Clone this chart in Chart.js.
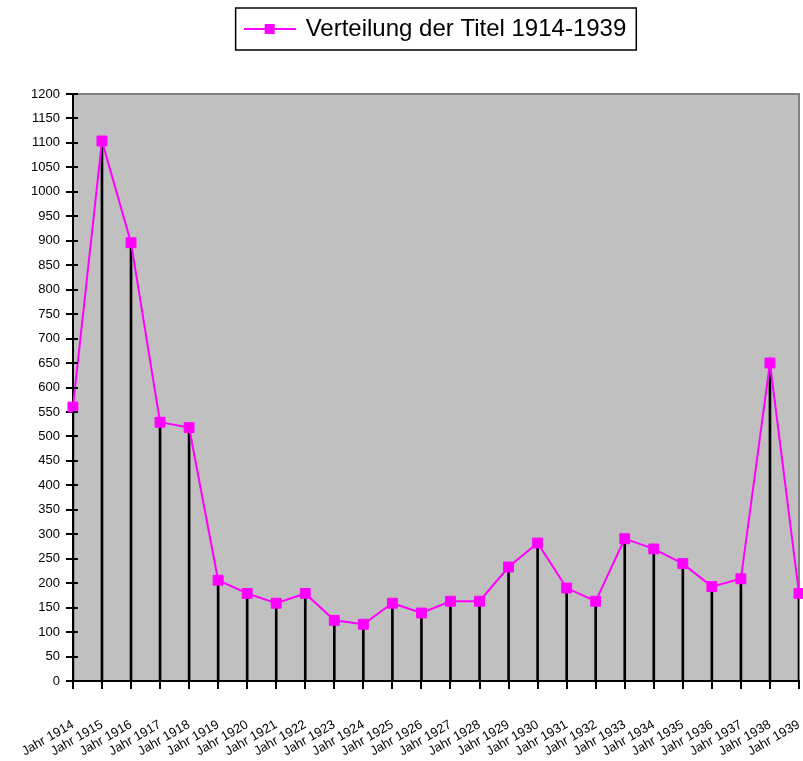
<!DOCTYPE html>
<html>
<head>
<meta charset="utf-8">
<script src="https://cdn.jsdelivr.net/npm/chart.js@4/dist/chart.umd.min.js"></script>
<style>
body { margin: 0; background: #fff; }
</style>
</head>
<body>
<canvas id="titel" width="803" height="761"></canvas>
<script>
// Kategorien und Werte
let jahre = ["Jahr 1914", "Jahr 1915", "Jahr 1916", "Jahr 1917", "Jahr 1918", "Jahr 1919", "Jahr 1920",
    "Jahr 1921", "Jahr 1922", "Jahr 1923", "Jahr 1924", "Jahr 1925", "Jahr 1926", "Jahr 1927",
    "Jahr 1928", "Jahr 1929", "Jahr 1930", "Jahr 1931", "Jahr 1932", "Jahr 1933", "Jahr 1934",
    "Jahr 1935", "Jahr 1936", "Jahr 1937", "Jahr 1938", "Jahr 1939"];
let titel = [560, 1104, 896, 529, 518, 206, 179, 159, 179, 124, 116, 159, 139, 163,
    163, 233, 282, 190, 163, 291, 270, 240, 193, 209, 650, 179];
let serienName = "Verteilung der Titel 1914-1939";
let yMin = 0, yMax = 1200, yStep = 50;

const schrift = "'Liberation Sans', Arial, sans-serif";

// Legendensymbol: Linie mit Quadrat
const marke = document.createElement("canvas");
marke.width = 52;
marke.height = 12;
const mc = marke.getContext("2d");
mc.strokeStyle = "#ff00ff";
mc.lineWidth = 2;
mc.beginPath();
mc.moveTo(0, 6);
mc.lineTo(52, 6);
mc.stroke();
mc.fillStyle = "#ff00ff";
mc.fillRect(21, 1, 10, 10);

// grauer Hintergrund der Zeichenfläche
const hintergrund = {
    id: "hintergrund",
    beforeDraw(chart) {
        const a = chart.chartArea, c = chart.ctx;
        c.save();
        c.fillStyle = "#c0c0c0";
        c.fillRect(a.left, a.top, a.right - a.left, a.bottom - a.top);
        c.strokeStyle = "#808080";
        c.lineWidth = 2;
        c.beginPath();
        c.moveTo(a.left, a.top);
        c.lineTo(a.right, a.top);
        c.lineTo(a.right, a.bottom);
        c.stroke();
        c.restore();
    },
    // y-Striche auch ein Stück nach innen
    afterDraw(chart) {
        const y = chart.scales.y, c = chart.ctx;
        c.save();
        c.strokeStyle = "#000";
        c.lineWidth = 2;
        c.beginPath();
        y.ticks.forEach(t => {
            const py = Math.round(y.getPixelForValue(t.value));
            c.moveTo(y.right, py);
            c.lineTo(y.right + 5, py);
        });
        c.stroke();
        c.restore();
    }
};

// Rahmen um die Legende und Abstand darunter
const legendeRahmen = {
    id: "legendeRahmen",
    beforeInit(chart) {
        const fit = chart.legend.fit;
        chart.legend.fit = function() {
            fit.bind(chart.legend)();
            this.height += 43;
        };
    },
    afterDraw(chart) {
        const h = chart.legend.legendHitBoxes[0];
        if (!h) return;
        const c = chart.ctx;
        c.save();
        c.strokeStyle = "#000";
        c.lineWidth = 1.5;
        c.strokeRect(h.left - 10, h.top + h.height / 2 - 21, h.width + 20, 42);
        c.restore();
    }
};

let config = {
    data: {
        labels: jahre,
        datasets: [{
            type: "line",
            label: serienName,
            data: titel,
            borderColor: "#ff00ff",
            backgroundColor: "#ff00ff",
            borderWidth: 2,
            pointStyle: "rect",
            pointRadius: 7,
            pointBorderWidth: 1,
            pointBackgroundColor: "#ff00ff",
            pointBorderColor: "#ff00ff",
            tension: 0,
            clip: false,
            order: 1
        }, {
            type: "bar",
            label: "Lot",
            data: titel,
            backgroundColor: "#000",
            barThickness: 2,
            order: 2
        }]
    },
    options: {
        responsive: false,
        animation: false,
        layout: {
            autoPadding: false,
            padding: { left: 25, right: 4, top: 0, bottom: 3 }
        },
        plugins: {
            tooltip: { enabled: false },
            legend: {
                position: "top",
                fullSize: false,
                labels: {
                    filter: item => item.datasetIndex === 0,
                    usePointStyle: true,
                    pointStyle: marke,
                    pointStyleWidth: 48,
                    color: "#000",
                    padding: 17,
                    font: { family: schrift, size: 24 }
                }
            }
        },
        scales: {
            x: {
                type: "category",
                offset: false,
                afterFit(scale) {
                    scale.paddingLeft = 0;
                    scale.paddingRight = 0;
                    scale.height = 77;
                },
                grid: {
                    offset: false,
                    drawOnChartArea: false,
                    tickLength: 8,
                    color: "#000",
                    lineWidth: 2
                },
                border: { color: "#000", width: 2 },
                ticks: {
                    autoSkip: false,
                    minRotation: 30,
                    maxRotation: 30,
                    padding: 28,
                    color: "#000",
                    font: { family: schrift, size: 13 }
                }
            },
            y: {
                min: yMin,
                max: yMax,
                grid: {
                    drawOnChartArea: false,
                    tickLength: 7,
                    color: "#000",
                    lineWidth: 2
                },
                border: { color: "#000", width: 2 },
                ticks: {
                    stepSize: yStep,
                    padding: 6,
                    color: "#000",
                    callback: v => String(v),
                    font: { family: schrift, size: 13 }
                }
            }
        }
    },
    plugins: [hintergrund, legendeRahmen]
};

window.addEventListener("load", function() {
    let ctx = document.getElementById("titel").getContext("2d");
    myChart = new Chart(ctx, config);
}, false);
</script>
</body>
</html>
